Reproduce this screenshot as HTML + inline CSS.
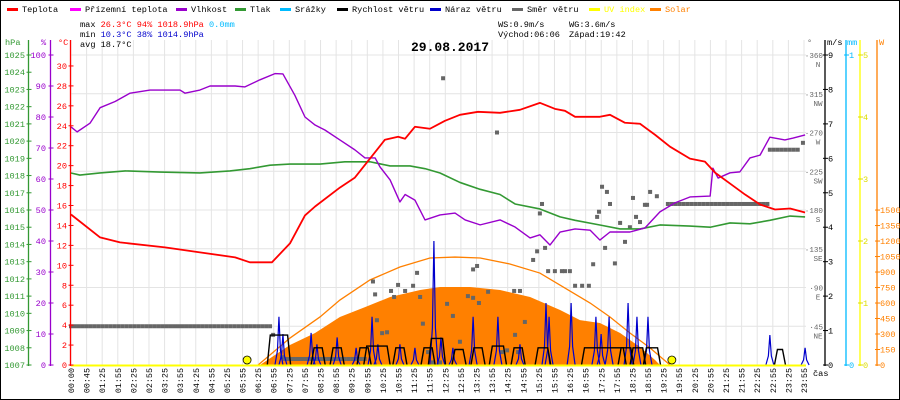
<!DOCTYPE html>
<html><head><meta charset="utf-8"><style>
html,body{margin:0;padding:0;background:#fff}
svg{display:block;font-family:"Liberation Mono",monospace}
</style></head><body>
<svg id="chart" width="900" height="400" viewBox="0 0 900 400" xmlns="http://www.w3.org/2000/svg">
<rect x="0.5" y="0.5" width="899" height="399" fill="#fff" stroke="#000"/>
<g id="grid"></g>
<g id="series"></g>
<g id="axes"></g>
<g id="legend" font-size="8.6"></g>
<g font-size="8.6">
<text x="80" y="27">max <tspan fill="#f00">26.3°C</tspan>  <tspan fill="#f00">94%</tspan>  <tspan fill="#f00">1018.9hPa</tspan>   <tspan fill="#00bbff">0.0mm</tspan></text>
<text x="80" y="37">min <tspan fill="#00c">10.3°C</tspan>  <tspan fill="#00c">38%</tspan>  <tspan fill="#00c">1014.9hPa</tspan></text>
<text x="80" y="47">avg 18.7°C</text>
<text x="498" y="27">WS:0.9m/s</text>
<text x="569" y="27">WG:3.6m/s</text>
<text x="498" y="37">Východ:06:06</text>
<text x="569" y="37">Západ:19:42</text>
</g>
<text x="450" y="51" text-anchor="middle" font-size="13" font-weight="bold">29.08.2017</text>
</svg>
<script>
// ---- data ----
const timeLabels = ["00:00","00:45","01:25","01:55","02:25","02:55","03:25","03:55","04:25","04:55","05:25","05:55","06:25","06:55","07:25","07:55","08:25","08:55","09:25","09:55","10:25","10:55","11:25","11:55","12:25","12:55","13:25","13:55","14:25","14:55","15:25","15:55","16:25","16:55","17:25","17:55","18:25","18:55","19:25","19:55","20:25","20:55","21:25","21:55","22:25","22:55","23:25","23:55"];
const tempTimes = [0,0.95,1.6,3.07,4.21,5.36,5.84,6.56,7.15,7.64,7.97,8.78,9.27,9.76,10.25,10.68,10.91,11.23,11.72,12.21,12.7,13.29,14.01,14.66,15.31,15.8,16.13,16.46,17.27,17.6,18.09,18.58,19.07,19.56,20.21,20.7,21.03,21.52,22.01,22.5,22.99,23.48,23.97];
const tempValues = [15.1,12.8,12.3,11.8,11.3,10.8,10.3,10.3,12.2,15.0,15.9,17.8,18.8,20.7,22.6,22.9,22.7,23.9,23.7,24.5,25.1,25.4,25.3,25.6,26.3,25.7,25.5,24.9,24.9,25.1,24.3,24.2,23.1,21.9,20.7,20.4,19.3,18.2,17.1,16.1,15.6,15.7,15.3];
const humTimes = [0,0.2,0.62,0.95,1.44,1.93,2.58,3.56,3.72,4.21,4.54,5.36,5.68,6.17,6.66,6.92,7.31,7.64,7.97,8.29,8.78,9.27,9.6,9.93,10.09,10.42,10.74,10.91,11.23,11.56,12.05,12.54,12.87,13.36,14.01,14.5,14.99,15.31,15.64,15.97,16.46,16.95,17.27,17.6,18.25,18.74,19.23,19.72,20.21,20.87,20.96,21.13,21.52,21.84,22.17,22.5,22.82,23.31,23.58,23.97];
const humValues = [76.8,75.2,78,83,85,87.7,88.7,88.7,87.7,88.7,90,90,89.7,92,94,93.9,87,80,77.4,75.8,72.6,69.4,66.8,66.8,63.9,59.7,52.6,55,53.2,46.8,48.4,49,46.8,45.2,46.8,44.5,41,42,38.7,42.9,43.9,43.5,40.3,42.9,42.9,44.2,49.4,52.3,54.2,54.5,63.5,60.3,62,62.3,66.8,67.7,73.5,72.6,73.2,74.2];
const presTimes = [0,0.29,0.95,1.77,2.91,4.21,5.19,5.84,6.5,7.15,8.13,8.94,9.76,10.42,11.07,11.56,12.05,12.7,13.36,14.01,14.5,15.31,15.97,16.46,17.27,17.93,18.58,19.23,20.21,20.87,21.52,22.17,22.82,23.48,23.97];
const presValues = [1018.15,1018.03,1018.15,1018.27,1018.2,1018.15,1018.27,1018.4,1018.6,1018.67,1018.67,1018.8,1018.8,1018.56,1018.56,1018.4,1018.15,1017.6,1017.2,1016.9,1016.35,1016.06,1015.6,1015.4,1015.13,1014.9,1014.9,1015.13,1015.07,1015,1015.25,1015.2,1015.4,1015.65,1015.6];
const solarTimes = [6.17,7.15,7.97,8.78,9.6,10.42,11.4,12.05,13.03,14.01,14.99,15.97,16.62,17.27,17.93,18.58,19.07,19.23];
const solarValues = [0,194,310,465,560,658,726,755,755,726,658,532,435,406,310,174,48,0];
const solarMaxTimes = [6.11,7.15,8.13,8.78,9.76,10.74,11.72,12.54,13.36,14.33,15.31,16.13,16.95,17.6,18.25,18.91,19.56];
const solarMaxValues = [0,261,465,629,823,949,1036,1045,1036,978,890,745,600,465,310,165,0];
const windTimes = [6.79,8.07,8.69,9.57,9.99,10.74,11.66,11.95,12.67,13.29,13.94,14.6,15.41,17.4,18.12,18.51,18.97,23.15];
const windValues = [0.87,0.5,0.5,0.5,0.55,0.5,0.5,0.77,0.45,0.5,0.55,0.5,0.5,0.5,0.5,0.5,0.5,0.45];
const windSpans = [0.5,0.2,0.2,0.2,0.6,0.2,0.2,0.3,0.2,0.2,0.3,0.2,0.25,1.2,0.25,0.25,0.3,0.1];
const gustTimes = [6.79,6.92,7.84,8.03,8.69,9.31,9.83,10.02,10.74,11.23,11.85,12.08,12.47,13.13,13.94,14.66,15.51,15.61,16.33,17.14,17.31,17.57,18.19,18.48,18.84,22.82,23.97];
const gustValues = [1.4,0.9,0.93,0.6,0.8,0.5,1.4,0.6,0.6,0.5,3.6,0.8,0.5,1.4,1.4,0.6,1.8,1.4,1.8,1.4,0.9,1.4,1.8,1.4,1.4,0.87,0.5];
const dirRunStart = [0,6.99,19.49,22.82];
const dirRunEnd = [6.56,9.7,22.82,23.8];
const dirRunValue = [45,7,187,250];
const dirTimes = [12.15,13.91,15.38,15.31,15.48,15.22,15.09,15.58,15.8,16.03,13.26,13.13,11.3,9.86,10.68,11.17,10.91,10.45,9.93,10.55,11.4,12.96,13.62,14.47,14.66,13.13,12.28,13.32,12.47,14.82,11.49,9.99,14.5,10.16,10.32,12.7,14.07,14.24,14.6,11.66,11.82,12.05,6.6,6.89,17.34,17.5,17.6,17.18,17.24,17.93,18.35,18.91,19.13,18.81,18.74,18.45,18.58,18.25,18.09,17.44,17.05,17.76,16.13,16.29,16.46,16.69,16.91,23.9];
const dirValues = [333,270,187,176,136,132,122,109,109,109,115,111,107,97,93,92,86,86,82,79,79,80,85,86,86,78,71,72,57,50,48,52,35,37,38,27,15,17,15,15,3,3,35,9,207,201,187,172,178,165,194,201,196,186,186,172,166,160,143,136,117,118,109,109,92,92,92,258];
const sunMarkers = [5.75,19.62];

// ---- scales ----
const X0=71, X1=806, YB=365, YT=55;
const xT = h => X0 + h*(X1-X0)/24;
const yC = v => YB - v*(YB-YT)/31.1;
const yH = v => YB - v*(YB-YT)/100;
const yP = v => YB - (v-1007)*(YB-YT)/18;
const yD = v => YB - v*(YB-YT)/360;
const yW = v => YB - v*(YB-YT)/9;
const yS = v => YB - v*0.1033;
const NS="http://www.w3.org/2000/svg";
function mk(parent,tag,attrs){const e=document.createElementNS(NS,tag);for(const k in attrs)e.setAttribute(k,attrs[k]);parent.appendChild(e);return e;}
const G=document.getElementById('grid'),S=document.getElementById('series'),A=document.getElementById('axes'),L=document.getElementById('legend');

// grid
for(let k=0;k<=8;k++){const y=YT+k*(YB-YT)/8;
 const l=mk(G,'line',{x1:X0,x2:X1,y1:y,y2:y,stroke:'#e4e4e4'});
 
 }
const lstep=(804-71)/(timeLabels.length-1);
timeLabels.forEach((t,i)=>{const x=71+i*lstep;
 const l=mk(G,'line',{x1:x,x2:x,y1:40,y2:YB,stroke:'#e4e4e4'});
 
 
 const tx=mk(A,'text',{x:0,y:0,transform:`translate(${x+3},368) rotate(-90)`,'text-anchor':'end','font-size':'8.4'});
 tx.textContent=t;
 
 });

// solar fill
let pts=solarTimes.map((t,i)=>xT(t)+','+yS(solarValues[i])).join(' ');
const sf=mk(S,'polygon',{points:pts,fill:'#ff8000'});


const sm=mk(S,'polyline',{points:solarMaxTimes.map((t,i)=>xT(t)+','+yS(solarMaxValues[i])).join(' '),fill:'none',stroke:'#ff8000','stroke-width':1.3});



// direction
dirRunStart.forEach((s,i)=>{for(let t=s;t<=dirRunEnd[i];t+=0.13){
 const r=mk(S,'rect',{x:xT(t)-2,y:yD(dirRunValue[i])-2,width:4,height:4,fill:'#666'});
 
 }});
dirTimes.forEach((t,i)=>{const r=mk(S,'rect',{x:xT(t)-2,y:yD(dirValues[i])-2,width:4,height:4,fill:'#666'});
 
 });

// lines
function line(ts,vs,yf,col,name,w){const p=mk(S,'polyline',{points:ts.map((t,i)=>xT(t)+','+yf(vs[i])).join(' '),fill:'none',stroke:col,'stroke-width':w||1.6,'stroke-linejoin':'round'});
 
 }
line(presTimes,presValues,yP,'#339933','pressure-line');
line(humTimes,humValues,yH,'#9900cc','humidity-line',1.4);
line(tempTimes,tempValues,yC,'#ff0000','temperature-line',1.8);

// gusts
gustTimes.forEach((t,i)=>{const x=xT(t);
 const p=mk(S,'polyline',{points:`${x-4},${YB} ${x-1.5},${yW(gustValues[i])*0.3+YB*0.7} ${x},${yW(gustValues[i])} ${x+1.5},${yW(gustValues[i])*0.3+YB*0.7} ${x+4},${YB}`,fill:'none',stroke:'#0000cc','stroke-width':1.2});
 
 });
// wind speed
windTimes.forEach((t,i)=>{const a=xT(t-windSpans[i]/2),b=xT(t+windSpans[i]/2),y=yW(windValues[i]);
 const p=mk(S,'polyline',{points:`${a-4},${YB} ${a-1},${y} ${b+1},${y} ${b+4},${YB}`,fill:'none',stroke:'#000','stroke-width':1.4});
 
 });

// baseline
mk(A,'line',{x1:X0,x2:X1,y1:YB+0.5,y2:YB+0.5,stroke:'#ffff00','stroke-width':2});
sunMarkers.forEach(t=>{const c=mk(S,'circle',{cx:xT(t),cy:YB-5,r:4,fill:'#ffff00',stroke:'#000','stroke-width':0.8});
 
 });

// axes
function axis(x,col,name){const l=mk(A,'line',{x1:x,x2:x,y1:40,y2:YB+1,stroke:col,'stroke-width':1.3});
 
 }
function tick(x,y,col,label,tx,anchor,fs){mk(A,'line',{x1:x-2,x2:x+3,y1:y,y2:y,stroke:col});
 if(label!==null){const t=mk(A,'text',{x:tx,y:y+3,fill:col,'text-anchor':anchor,'font-size':fs||8.6});t.textContent=label;
 
 }}
axis(28.5,'#339933','pressure-axis');axis(50.5,'#9900cc','humidity-axis');axis(70.5,'#ff0000','temperature-axis');
axis(825,'#000','wind-speed-axis');axis(846,'#00bbff','rain-axis');axis(860,'#ffff00','uv-axis');axis(877,'#ff8000','solar-axis');
for(let v=1007;v<=1025;v++)tick(28.5,yP(v),'#339933',String(v),25,'end');
for(let v=0;v<=100;v+=10)tick(50.5,yH(v),'#9900cc',String(v),46,'end');
for(let v=0;v<=30;v+=2)tick(70.5,yC(v),'#ff0000',String(v),67,'end');
const dirNames=['','NE','E','SE','S','SW','W','NW','N'];
for(let k=1;k<=8;k++){const y=yD(k*45);const t=mk(A,'text',{x:823,y:y+3,fill:'#666','font-size':7.6,'text-anchor':'end'});t.textContent='·'+(k*45);
 
 
 const n=mk(A,'text',{x:818,y:y+12,fill:'#666','font-size':7.6,'text-anchor':'middle'});n.textContent=dirNames[k];
 
 }
for(let v=0;v<=9;v++)tick(825,yW(v),'#000',String(v),828,'start');
tick(846,YB,'#00bbff','0',849,'start');tick(846,YT,'#00bbff','1',849,'start');
for(let v=0;v<=5;v++)tick(860,YB-v*(YB-YT)/5,'#dddd00',String(v),863,'start');
for(let v=0;v<=1500;v+=150)tick(877,yS(v),'#ff8000',String(v),880,'start');
[['hPa',5,'#339933'],['%',41,'#9900cc'],['°C',58,'#ff0000'],['°',807,'#666'],['m/s',827,'#000'],['mm',847,'#00bbff'],['W',879,'#ff8000']].forEach(([t,x,c])=>{const e=mk(A,'text',{x:x,y:45,fill:c,'font-size':8.6});e.textContent=t;
 
 });
const cas=mk(A,'text',{x:813,y:376,'font-size':8.6});cas.textContent='čas';



// legend
const legNames=['Teplota','Přízemní teplota','Vlhkost','Tlak','Srážky','Rychlost větru','Náraz větru','Směr větru','UV index','Solar'];
const legColors=['#ff0000','#ff00ff','#9900cc','#339933','#00bbff','#000','#0000cc','#666','#ffff00','#ff8000'];
const legX=[7,70,176,235,280,337,430,512,589,650];
legNames.forEach((n,i)=>{const g=mk(L,'g',{});
 
 
 mk(g,'rect',{x:legX[i],y:8,width:11,height:3,fill:legColors[i]});
 const t=mk(g,'text',{x:legX[i]+15,y:12,fill:(i>=8?legColors[i]:'#000')});t.textContent=n;});
</script>
</body></html>
